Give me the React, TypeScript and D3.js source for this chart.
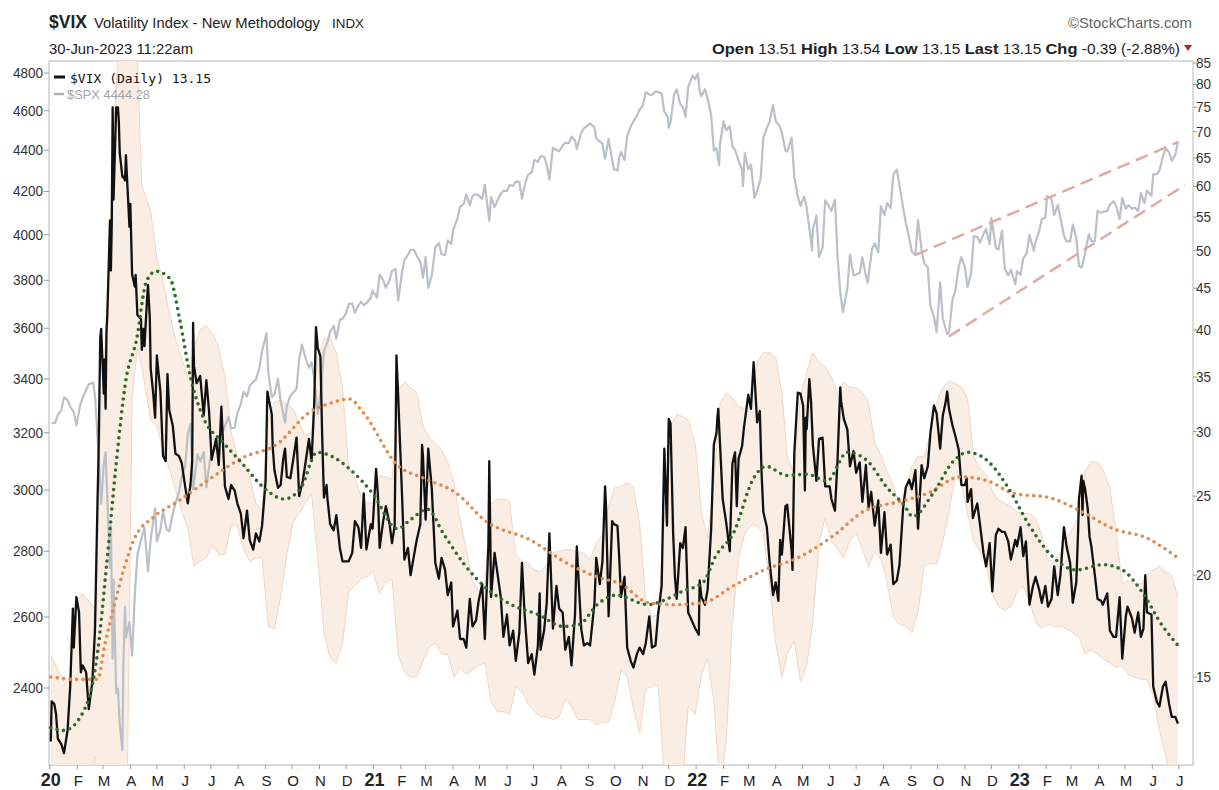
import React from 'react';
import * as d3 from 'd3';

// $VIX closes (right log axis) - weekly closes and spikes
const vixWeekly: [string, number][] = [
  ['2020-01-02', 12.5], ['2020-01-03', 14.0], ['2020-01-08', 13.5], ['2020-01-10', 12.6], ['2020-01-17', 12.1],
  ['2020-01-24', 14.6], ['2020-01-27', 18.2], ['2020-01-31', 18.8], ['2020-02-05', 15.2], ['2020-02-07', 15.5],
  ['2020-02-14', 13.7], ['2020-02-21', 17.1], ['2020-02-24', 25.0], ['2020-02-27', 39.2], ['2020-02-28', 40.1],
  ['2020-03-04', 32.0], ['2020-03-06', 41.9], ['2020-03-09', 54.5], ['2020-03-11', 53.9], ['2020-03-12', 75.0],
  ['2020-03-13', 57.8], ['2020-03-16', 75.0], ['2020-03-18', 75.0], ['2020-03-20', 66.0], ['2020-03-23', 61.6],
  ['2020-03-26', 61.0], ['2020-03-27', 65.5], ['2020-03-31', 53.5], ['2020-04-03', 46.8], ['2020-04-07', 46.7],
  ['2020-04-09', 41.7], ['2020-04-14', 37.8], ['2020-04-17', 38.2], ['2020-04-21', 45.4], ['2020-04-24', 35.9],
  ['2020-04-29', 31.2], ['2020-05-01', 37.2], ['2020-05-08', 28.0], ['2020-05-13', 35.3], ['2020-05-15', 31.9],
  ['2020-05-22', 28.2], ['2020-05-29', 27.5], ['2020-06-05', 24.5], ['2020-06-08', 25.8], ['2020-06-11', 40.8],
  ['2020-06-12', 36.1], ['2020-06-19', 35.1], ['2020-06-26', 34.7], ['2020-07-02', 27.7], ['2020-07-10', 27.3],
  ['2020-07-17', 25.7], ['2020-07-24', 25.8], ['2020-07-31', 24.5], ['2020-08-07', 22.2], ['2020-08-14', 22.1],
  ['2020-08-21', 22.5], ['2020-08-28', 23.0], ['2020-09-03', 33.6], ['2020-09-08', 31.5], ['2020-09-11', 26.9],
  ['2020-09-18', 25.8], ['2020-09-23', 28.6], ['2020-09-25', 26.4], ['2020-10-02', 27.6], ['2020-10-09', 25.0],
  ['2020-10-16', 27.4], ['2020-10-23', 27.6], ['2020-10-28', 40.3], ['2020-10-30', 38.0], ['2020-11-06', 24.9],
  ['2020-11-09', 25.8], ['2020-11-13', 23.1], ['2020-11-20', 23.7], ['2020-11-27', 20.8], ['2020-12-04', 20.8],
  ['2020-12-11', 23.3], ['2020-12-18', 21.6], ['2020-12-24', 21.5], ['2020-12-31', 22.8],
  ['2021-01-04', 27.0], ['2021-01-08', 21.6], ['2021-01-15', 24.3], ['2021-01-22', 21.9], ['2021-01-27', 37.2],
  ['2021-01-29', 33.1], ['2021-02-05', 20.9], ['2021-02-12', 20.0], ['2021-02-19', 22.1], ['2021-02-25', 28.9],
  ['2021-02-26', 28.0], ['2021-03-04', 28.6], ['2021-03-12', 20.7], ['2021-03-19', 21.0], ['2021-03-26', 18.9],
  ['2021-04-01', 17.3], ['2021-04-09', 16.7], ['2021-04-16', 16.3], ['2021-04-23', 17.3], ['2021-04-30', 18.6],
  ['2021-05-07', 16.7], ['2021-05-12', 27.6], ['2021-05-14', 18.8], ['2021-05-21', 20.2], ['2021-05-28', 16.8],
  ['2021-06-04', 16.4], ['2021-06-11', 15.7], ['2021-06-18', 20.7], ['2021-06-25', 15.6], ['2021-07-02', 15.1],
  ['2021-07-09', 16.2], ['2021-07-16', 18.5], ['2021-07-19', 22.5], ['2021-07-23', 17.2], ['2021-07-30', 18.2],
  ['2021-08-06', 16.2], ['2021-08-13', 15.5], ['2021-08-19', 21.7], ['2021-08-27', 16.4], ['2021-09-03', 16.4],
  ['2021-09-10', 21.0], ['2021-09-17', 20.8], ['2021-09-20', 25.7], ['2021-09-24', 17.8], ['2021-09-30', 23.1],
  ['2021-10-04', 23.0], ['2021-10-08', 18.8], ['2021-10-15', 16.3], ['2021-10-22', 15.4], ['2021-10-29', 16.3],
  ['2021-11-05', 16.5], ['2021-11-12', 16.3], ['2021-11-19', 17.9], ['2021-11-26', 28.6], ['2021-12-01', 31.1],
  ['2021-12-03', 30.7], ['2021-12-10', 18.7], ['2021-12-17', 21.6], ['2021-12-20', 22.9], ['2021-12-23', 18.0],
  ['2021-12-31', 17.2],
  ['2022-01-07', 18.8], ['2022-01-14', 19.2], ['2022-01-21', 28.9], ['2022-01-24', 29.9], ['2022-01-27', 30.5],
  ['2022-02-04', 23.2], ['2022-02-11', 27.4], ['2022-02-18', 27.8], ['2022-02-24', 30.3], ['2022-03-04', 32.0],
  ['2022-03-07', 36.5], ['2022-03-11', 30.8], ['2022-03-18', 23.9], ['2022-03-25', 20.8], ['2022-04-01', 19.6],
  ['2022-04-04', 18.6], ['2022-04-08', 21.2], ['2022-04-14', 24.4], ['2022-04-22', 28.2], ['2022-04-26', 33.5],
  ['2022-04-29', 33.4], ['2022-05-06', 30.2], ['2022-05-09', 34.8], ['2022-05-13', 28.9], ['2022-05-20', 29.4],
  ['2022-05-27', 25.7], ['2022-06-03', 24.8], ['2022-06-10', 27.8], ['2022-06-13', 34.0], ['2022-06-17', 31.1],
  ['2022-06-24', 27.2], ['2022-07-01', 26.7], ['2022-07-08', 24.6], ['2022-07-15', 24.2], ['2022-07-22', 23.0],
  ['2022-07-29', 21.3], ['2022-08-05', 21.2], ['2022-08-12', 19.5], ['2022-08-19', 20.6], ['2022-08-26', 25.6],
  ['2022-09-02', 25.5], ['2022-09-09', 22.8], ['2022-09-16', 26.3], ['2022-09-23', 29.9], ['2022-09-30', 31.6],
  ['2022-10-07', 31.4], ['2022-10-12', 33.6], ['2022-10-14', 32.0], ['2022-10-21', 29.7], ['2022-10-28', 25.8],
  ['2022-11-04', 24.6], ['2022-11-10', 23.5], ['2022-11-18', 23.1], ['2022-11-25', 20.5], ['2022-12-02', 19.1],
  ['2022-12-09', 22.8], ['2022-12-16', 22.6], ['2022-12-23', 20.9], ['2022-12-30', 21.7],
  ['2023-01-06', 21.1], ['2023-01-13', 18.4], ['2023-01-20', 19.9], ['2023-01-27', 18.5], ['2023-02-03', 18.3],
  ['2023-02-10', 20.5], ['2023-02-17', 20.0], ['2023-02-24', 21.7], ['2023-03-03', 18.5], ['2023-03-10', 24.8],
  ['2023-03-13', 26.5], ['2023-03-17', 25.5], ['2023-03-24', 21.7], ['2023-03-31', 18.7], ['2023-04-06', 18.4],
  ['2023-04-14', 17.1], ['2023-04-21', 16.8], ['2023-04-28', 15.8], ['2023-05-04', 18.3], ['2023-05-12', 17.0],
  ['2023-05-19', 16.8], ['2023-05-24', 20.0], ['2023-05-31', 17.9], ['2023-06-02', 14.6], ['2023-06-09', 13.8],
  ['2023-06-16', 14.8], ['2023-06-23', 13.4], ['2023-06-30', 13.15],
];

// $VIX mid-week closes
const vixMidweek: [string, number][] = [
  ['2020-01-06', 13.9], ['2020-01-14', 12.4], ['2020-01-21', 12.9], ['2020-01-28', 16.3], ['2020-02-03', 18.0],
  ['2020-02-11', 15.2], ['2020-02-18', 14.8], ['2020-02-25', 27.9], ['2020-03-02', 33.4], ['2020-03-03', 36.8],
  ['2020-03-05', 39.6], ['2020-03-10', 47.3], ['2020-03-19', 72.0], ['2020-03-24', 61.7], ['2020-04-01', 57.1],
  ['2020-04-06', 45.2], ['2020-04-13', 41.2], ['2020-04-16', 40.1], ['2020-04-20', 43.8], ['2020-04-23', 41.4],
  ['2020-04-27', 33.3], ['2020-05-05', 33.6], ['2020-05-11', 27.6], ['2020-05-19', 30.5], ['2020-05-26', 28.0],
  ['2020-06-02', 25.7], ['2020-06-10', 27.6], ['2020-06-15', 34.4], ['2020-06-23', 31.4], ['2020-06-29', 31.8],
  ['2020-07-07', 29.4], ['2020-07-13', 32.2], ['2020-07-21', 24.8], ['2020-07-28', 25.4], ['2020-08-04', 23.8],
  ['2020-08-11', 24.0], ['2020-08-18', 21.5], ['2020-08-25', 22.0], ['2020-09-01', 26.1], ['2020-09-09', 28.8],
  ['2020-09-15', 25.6], ['2020-09-21', 27.8], ['2020-09-29', 26.3], ['2020-10-06', 29.5], ['2020-10-13', 26.1],
  ['2020-10-20', 29.4], ['2020-10-26', 32.5], ['2020-11-02', 37.1], ['2020-11-04', 29.6], ['2020-11-10', 24.8],
  ['2020-11-17', 22.7], ['2020-11-24', 21.6], ['2020-12-01', 20.8], ['2020-12-08', 21.3], ['2020-12-15', 22.9],
  ['2020-12-21', 25.2], ['2020-12-29', 23.1],
  ['2021-01-06', 25.1], ['2021-01-12', 23.3], ['2021-01-19', 23.2], ['2021-01-25', 23.0], ['2021-02-02', 25.6],
  ['2021-02-09', 21.6], ['2021-02-17', 21.5], ['2021-02-23', 23.1], ['2021-03-01', 23.4], ['2021-03-08', 25.5],
  ['2021-03-16', 19.8], ['2021-03-23', 20.3], ['2021-03-30', 19.6], ['2021-04-06', 18.1], ['2021-04-13', 16.7],
  ['2021-04-20', 18.7], ['2021-04-27', 17.6], ['2021-05-04', 19.5], ['2021-05-11', 21.8], ['2021-05-13', 23.1],
  ['2021-05-18', 21.3], ['2021-05-25', 18.8], ['2021-06-01', 17.9], ['2021-06-08', 17.1], ['2021-06-15', 17.0],
  ['2021-06-21', 17.9], ['2021-06-29', 16.0], ['2021-07-06', 16.4], ['2021-07-08', 19.0], ['2021-07-13', 17.1],
  ['2021-07-21', 19.7], ['2021-07-27', 19.4], ['2021-08-03', 18.0], ['2021-08-10', 16.8], ['2021-08-17', 17.9],
  ['2021-08-24', 17.2], ['2021-08-31', 16.5], ['2021-09-08', 18.5], ['2021-09-14', 19.5], ['2021-09-21', 24.4],
  ['2021-09-28', 23.3], ['2021-10-06', 21.0], ['2021-10-12', 19.9], ['2021-10-19', 15.7], ['2021-10-26', 16.0],
  ['2021-11-02', 16.0], ['2021-11-09', 17.8], ['2021-11-16', 16.4], ['2021-11-23', 19.4], ['2021-11-29', 23.0],
  ['2021-12-06', 22.5], ['2021-12-08', 19.9], ['2021-12-14', 21.9], ['2021-12-28', 17.5],
  ['2022-01-04', 16.9], ['2022-01-05', 19.7], ['2022-01-11', 18.4], ['2022-01-18', 22.8], ['2022-01-25', 31.2],
  ['2022-01-26', 32.0], ['2022-01-31', 24.8], ['2022-02-08', 21.4], ['2022-02-14', 28.3], ['2022-02-16', 24.3],
  ['2022-02-22', 28.8], ['2022-03-01', 33.3], ['2022-03-08', 35.1], ['2022-03-14', 31.8], ['2022-03-16', 26.7],
  ['2022-03-22', 22.9], ['2022-03-29', 18.9], ['2022-04-06', 22.1], ['2022-04-12', 24.3], ['2022-04-19', 21.4],
  ['2022-04-20', 20.3], ['2022-05-02', 32.3], ['2022-05-04', 25.4], ['2022-05-05', 31.2], ['2022-05-11', 32.6],
  ['2022-05-17', 26.1], ['2022-05-24', 29.5], ['2022-06-01', 25.7], ['2022-06-07', 24.0], ['2022-06-14', 32.7],
  ['2022-06-21', 30.2], ['2022-06-28', 28.4], ['2022-07-05', 27.5], ['2022-07-12', 27.3], ['2022-07-18', 25.3],
  ['2022-07-26', 24.7], ['2022-08-02', 23.9], ['2022-08-09', 21.8], ['2022-08-16', 19.7], ['2022-08-23', 24.1],
  ['2022-08-30', 26.2], ['2022-09-06', 26.9], ['2022-09-13', 27.3], ['2022-09-20', 27.2], ['2022-09-27', 32.3],
  ['2022-10-04', 28.6], ['2022-10-10', 32.5], ['2022-10-18', 30.5], ['2022-10-25', 28.5], ['2022-11-01', 25.8],
  ['2022-11-03', 26.3], ['2022-11-08', 25.5], ['2022-11-15', 24.5], ['2022-11-22', 21.3], ['2022-11-29', 21.9],
  ['2022-12-06', 22.4], ['2022-12-13', 22.6], ['2022-12-20', 22.0], ['2022-12-28', 22.1],
  ['2023-01-03', 22.9], ['2023-01-09', 22.0], ['2023-01-17', 19.4], ['2023-01-24', 19.2], ['2023-01-31', 19.4],
  ['2023-02-07', 18.7], ['2023-02-14', 18.9], ['2023-02-21', 22.9], ['2023-02-28', 20.7], ['2023-03-07', 19.6],
  ['2023-03-09', 22.6], ['2023-03-14', 23.7], ['2023-03-15', 26.1], ['2023-03-20', 24.1], ['2023-03-22', 22.3],
  ['2023-03-28', 20.0], ['2023-04-04', 18.6], ['2023-04-11', 19.0], ['2023-04-18', 16.8], ['2023-04-25', 18.8],
  ['2023-05-02', 17.8], ['2023-05-09', 17.7], ['2023-05-16', 18.0], ['2023-05-22', 17.2], ['2023-05-26', 18.0],
  ['2023-06-06', 14.0], ['2023-06-13', 14.6], ['2023-06-20', 13.9], ['2023-06-27', 13.4],
];

// $SPX closes (left log axis)
const spxWeekly: [string, number][] = [
  ['2020-01-03', 3235], ['2020-01-10', 3265], ['2020-01-17', 3330], ['2020-01-24', 3295], ['2020-01-31', 3226],
  ['2020-02-07', 3328], ['2020-02-14', 3380], ['2020-02-19', 3386], ['2020-02-21', 3338], ['2020-02-28', 2954],
  ['2020-03-06', 2972], ['2020-03-09', 2747], ['2020-03-12', 2481], ['2020-03-13', 2711], ['2020-03-16', 2386],
  ['2020-03-20', 2305], ['2020-03-23', 2237], ['2020-03-27', 2541], ['2020-04-03', 2489], ['2020-04-09', 2790],
  ['2020-04-17', 2875], ['2020-04-24', 2837], ['2020-04-29', 2939], ['2020-05-01', 2831], ['2020-05-08', 2930],
  ['2020-05-15', 2864], ['2020-05-22', 2955], ['2020-05-29', 3044], ['2020-06-05', 3194], ['2020-06-08', 3232],
  ['2020-06-11', 3002], ['2020-06-19', 3098], ['2020-06-26', 3009], ['2020-07-02', 3130], ['2020-07-10', 3185],
  ['2020-07-17', 3225], ['2020-07-24', 3216], ['2020-07-31', 3271], ['2020-08-07', 3351], ['2020-08-14', 3373],
  ['2020-08-21', 3397], ['2020-08-28', 3508], ['2020-09-02', 3580], ['2020-09-08', 3332], ['2020-09-11', 3341],
  ['2020-09-18', 3319], ['2020-09-23', 3237], ['2020-09-25', 3298], ['2020-10-02', 3348], ['2020-10-09', 3477],
  ['2020-10-12', 3534], ['2020-10-16', 3483], ['2020-10-23', 3465], ['2020-10-30', 3270], ['2020-11-06', 3509],
  ['2020-11-13', 3585], ['2020-11-20', 3558], ['2020-11-27', 3638], ['2020-12-04', 3699], ['2020-12-11', 3663],
  ['2020-12-18', 3709], ['2020-12-24', 3703], ['2020-12-31', 3756],
  ['2021-01-08', 3824], ['2021-01-15', 3768], ['2021-01-22', 3841], ['2021-01-29', 3714], ['2021-02-05', 3887],
  ['2021-02-12', 3934], ['2021-02-19', 3906], ['2021-02-26', 3811], ['2021-03-04', 3768], ['2021-03-12', 3943],
  ['2021-03-19', 3913], ['2021-03-26', 3975], ['2021-04-01', 4020], ['2021-04-09', 4129], ['2021-04-16', 4185],
  ['2021-04-23', 4180], ['2021-04-30', 4181], ['2021-05-07', 4232], ['2021-05-12', 4063], ['2021-05-14', 4174],
  ['2021-05-21', 4156], ['2021-05-28', 4204], ['2021-06-04', 4230], ['2021-06-11', 4247], ['2021-06-18', 4166],
  ['2021-06-25', 4281], ['2021-07-02', 4352], ['2021-07-09', 4370], ['2021-07-16', 4327], ['2021-07-19', 4258],
  ['2021-07-23', 4412], ['2021-07-30', 4395], ['2021-08-06', 4437], ['2021-08-13', 4468], ['2021-08-19', 4406],
  ['2021-08-27', 4509], ['2021-09-03', 4535], ['2021-09-10', 4459], ['2021-09-17', 4433], ['2021-09-20', 4358],
  ['2021-09-24', 4455], ['2021-09-30', 4308], ['2021-10-04', 4300], ['2021-10-08', 4391], ['2021-10-15', 4471],
  ['2021-10-22', 4545], ['2021-10-29', 4605], ['2021-11-05', 4698], ['2021-11-12', 4683], ['2021-11-19', 4698],
  ['2021-11-26', 4595], ['2021-12-01', 4513], ['2021-12-03', 4538], ['2021-12-10', 4712], ['2021-12-17', 4620],
  ['2021-12-20', 4568], ['2021-12-23', 4725], ['2021-12-31', 4766],
  ['2022-01-03', 4796], ['2022-01-07', 4677], ['2022-01-14', 4662], ['2022-01-21', 4398], ['2022-01-27', 4326],
  ['2022-01-28', 4432], ['2022-02-04', 4500], ['2022-02-11', 4419], ['2022-02-18', 4349], ['2022-02-23', 4225],
  ['2022-02-25', 4385], ['2022-03-04', 4329], ['2022-03-08', 4170], ['2022-03-11', 4204], ['2022-03-18', 4463],
  ['2022-03-25', 4543], ['2022-03-29', 4631], ['2022-04-01', 4546], ['2022-04-08', 4488], ['2022-04-14', 4393],
  ['2022-04-22', 4272], ['2022-04-29', 4132], ['2022-05-06', 4123], ['2022-05-12', 3930], ['2022-05-13', 4024],
  ['2022-05-20', 3901], ['2022-05-27', 4158], ['2022-06-03', 4109], ['2022-06-10', 3901], ['2022-06-16', 3666],
  ['2022-06-24', 3912], ['2022-07-01', 3825], ['2022-07-08', 3899], ['2022-07-14', 3790], ['2022-07-22', 3962],
  ['2022-07-29', 4130], ['2022-08-05', 4145], ['2022-08-12', 4280], ['2022-08-16', 4305], ['2022-08-19', 4228],
  ['2022-08-26', 4058], ['2022-09-02', 3924], ['2022-09-09', 4067], ['2022-09-16', 3873], ['2022-09-23', 3693],
  ['2022-09-30', 3585], ['2022-10-07', 3640], ['2022-10-12', 3577], ['2022-10-14', 3583], ['2022-10-21', 3752],
  ['2022-10-28', 3901], ['2022-11-04', 3771], ['2022-11-11', 3993], ['2022-11-18', 3965], ['2022-11-25', 4026],
  ['2022-12-01', 4077], ['2022-12-09', 3934], ['2022-12-13', 4019], ['2022-12-16', 3852], ['2022-12-23', 3845],
  ['2022-12-28', 3783], ['2022-12-30', 3840],
  ['2023-01-06', 3895], ['2023-01-13', 3999], ['2023-01-20', 3973], ['2023-01-27', 4070], ['2023-02-02', 4179],
  ['2023-02-10', 4090], ['2023-02-17', 4079], ['2023-02-24', 3970], ['2023-03-03', 4046], ['2023-03-10', 3862],
  ['2023-03-17', 3917], ['2023-03-24', 3971], ['2023-03-31', 4109], ['2023-04-06', 4105], ['2023-04-14', 4138],
  ['2023-04-21', 4133], ['2023-04-28', 4169], ['2023-05-05', 4136], ['2023-05-12', 4124], ['2023-05-19', 4192],
  ['2023-05-26', 4205], ['2023-06-02', 4282], ['2023-06-09', 4299], ['2023-06-16', 4410], ['2023-06-23', 4348],
  ['2023-06-30', 4444],
];

// $SPX mid-week closes
const spxMidweek: [string, number][] = [
  ['2020-01-07', 3237], ['2020-01-14', 3283], ['2020-01-21', 3321], ['2020-01-28', 3276], ['2020-02-04', 3298],
  ['2020-02-11', 3358], ['2020-02-25', 3128], ['2020-03-02', 3090], ['2020-03-04', 3130], ['2020-03-10', 2882],
  ['2020-03-18', 2398], ['2020-03-24', 2447], ['2020-03-26', 2630], ['2020-03-31', 2585], ['2020-04-06', 2664],
  ['2020-04-14', 2846], ['2020-04-21', 2737], ['2020-05-05', 2868], ['2020-05-12', 2870], ['2020-05-19', 2922],
  ['2020-05-26', 2992], ['2020-06-02', 3080], ['2020-06-16', 3124], ['2020-06-23', 3131], ['2020-06-30', 3100],
  ['2020-07-07', 3145], ['2020-07-14', 3197], ['2020-07-21', 3257], ['2020-07-28', 3218], ['2020-08-04', 3306],
  ['2020-08-11', 3333], ['2020-08-18', 3390], ['2020-08-25', 3443], ['2020-09-04', 3427], ['2020-09-15', 3401],
  ['2020-09-29', 3335], ['2020-10-06', 3361], ['2020-10-20', 3443], ['2020-10-26', 3401], ['2020-11-03', 3369],
  ['2020-11-10', 3545], ['2020-11-17', 3610], ['2020-11-24', 3635], ['2020-12-01', 3662], ['2020-12-08', 3702],
  ['2020-12-15', 3694], ['2020-12-21', 3694], ['2020-12-29', 3727],
  ['2021-01-05', 3726], ['2021-01-12', 3801], ['2021-01-19', 3799], ['2021-01-26', 3849], ['2021-02-02', 3826],
  ['2021-02-09', 3911], ['2021-02-16', 3932], ['2021-02-23', 3881], ['2021-03-01', 3901], ['2021-03-08', 3821],
  ['2021-03-16', 3963], ['2021-03-23', 3910], ['2021-03-30', 3959], ['2021-04-06', 4074], ['2021-04-13', 4141],
  ['2021-04-20', 4135], ['2021-04-27', 4187], ['2021-05-04', 4165], ['2021-05-18', 4127], ['2021-05-25', 4188],
  ['2021-06-01', 4202], ['2021-06-08', 4227], ['2021-06-15', 4246], ['2021-06-22', 4246], ['2021-06-29', 4291],
  ['2021-07-06', 4343], ['2021-07-13', 4369], ['2021-07-27', 4401], ['2021-08-03', 4423], ['2021-08-10', 4436],
  ['2021-08-17', 4448], ['2021-08-24', 4486], ['2021-08-31', 4523], ['2021-09-08', 4514], ['2021-09-14', 4443],
  ['2021-09-28', 4352], ['2021-10-06', 4363], ['2021-10-12', 4351], ['2021-10-19', 4519], ['2021-10-26', 4575],
  ['2021-11-02', 4631], ['2021-11-09', 4685], ['2021-11-16', 4701], ['2021-11-23', 4690], ['2021-11-30', 4567],
  ['2021-12-07', 4686], ['2021-12-14', 4635], ['2021-12-28', 4786],
  ['2022-01-05', 4700], ['2022-01-11', 4713], ['2022-01-18', 4577], ['2022-01-24', 4410], ['2022-02-01', 4546],
  ['2022-02-08', 4521], ['2022-02-14', 4401], ['2022-02-22', 4304], ['2022-03-01', 4306], ['2022-03-15', 4262],
  ['2022-03-22', 4512], ['2022-04-05', 4525], ['2022-04-12', 4397], ['2022-04-19', 4462], ['2022-04-26', 4175],
  ['2022-05-03', 4175], ['2022-05-05', 4147], ['2022-05-10', 4001], ['2022-05-17', 4088], ['2022-05-24', 3941],
  ['2022-05-31', 4132], ['2022-06-07', 4161], ['2022-06-13', 3750], ['2022-06-21', 3765], ['2022-06-28', 3821],
  ['2022-07-05', 3831], ['2022-07-12', 3819], ['2022-07-19', 3937], ['2022-07-26', 3921], ['2022-08-02', 4091],
  ['2022-08-09', 4122], ['2022-08-23', 4128], ['2022-08-30', 3986], ['2022-09-06', 3909], ['2022-09-13', 3933],
  ['2022-09-20', 3856], ['2022-09-27', 3647], ['2022-10-04', 3791], ['2022-10-11', 3588], ['2022-10-18', 3720],
  ['2022-10-25', 3859], ['2022-11-01', 3856], ['2022-11-08', 3828], ['2022-11-15', 3991], ['2022-11-22', 4003],
  ['2022-11-29', 3958], ['2022-12-06', 3941], ['2022-12-20', 3821],
  ['2023-01-03', 3824], ['2023-01-10', 3919], ['2023-01-18', 3928], ['2023-01-24', 4017], ['2023-01-31', 4077],
  ['2023-02-07', 4164], ['2023-02-14', 4136], ['2023-02-21', 3997], ['2023-02-28', 3970], ['2023-03-07', 3986],
  ['2023-03-13', 3855], ['2023-03-21', 4002], ['2023-03-28', 3971], ['2023-04-04', 4100], ['2023-04-11', 4109],
  ['2023-04-18', 4154], ['2023-04-25', 4071], ['2023-05-02', 4119], ['2023-05-09', 4119], ['2023-05-16', 4109],
  ['2023-05-23', 4145], ['2023-05-31', 4180], ['2023-06-06', 4283], ['2023-06-13', 4369], ['2023-06-20', 4389],
  ['2023-06-27', 4378],
];

// green dotted: 50-day moving average of $VIX
const vixMa50: [string, number][] = [
  ['2020-01-02', 13.0], ['2020-01-17', 12.9], ['2020-02-12', 13.9], ['2020-02-24', 16.1], ['2020-03-05', 20.5],
  ['2020-03-16', 27.4], ['2020-03-27', 34.7], ['2020-04-08', 38.9], ['2020-04-19', 45.8], ['2020-04-30', 47.2],
  ['2020-05-16', 46.2], ['2020-05-27', 41.1], ['2020-06-08', 35.0], ['2020-06-22', 31.3], ['2020-07-15', 29.1],
  ['2020-08-07', 27.3], ['2020-08-30', 25.6], ['2020-09-22', 24.8], ['2020-10-11', 25.6], ['2020-10-29', 28.3],
  ['2020-11-14', 28.0], ['2020-12-05', 27.0], ['2020-12-31', 25.2], ['2021-01-28', 22.8], ['2021-02-12', 23.4],
  ['2021-03-03', 24.1], ['2021-03-21', 22.5], ['2021-04-14', 20.6], ['2021-05-06', 19.4], ['2021-06-06', 18.4],
  ['2021-07-06', 17.9], ['2021-08-04', 17.3], ['2021-08-22', 17.4], ['2021-09-11', 18.4], ['2021-10-02', 18.9],
  ['2021-11-08', 18.4], ['2021-11-24', 18.6], ['2021-12-16', 19.1], ['2022-01-09', 19.6], ['2022-01-23', 21.1],
  ['2022-02-12', 22.5], ['2022-03-07', 26.3], ['2022-03-21', 27.2], ['2022-04-14', 26.5], ['2022-05-06', 26.6],
  ['2022-05-29', 26.1], ['2022-06-21', 28.3], ['2022-07-14', 27.6], ['2022-08-05', 25.6], ['2022-08-24', 24.4],
  ['2022-09-03', 23.6], ['2022-09-26', 25.2], ['2022-10-19', 27.6], ['2022-11-04', 28.3], ['2022-11-27', 27.6],
  ['2022-12-20', 25.6], ['2023-01-12', 23.1], ['2023-02-04', 21.3], ['2023-03-07', 20.3], ['2023-04-06', 20.6],
  ['2023-04-28', 20.3], ['2023-05-20', 19.1], ['2023-06-13', 17.3], ['2023-06-30', 16.4],
];

// orange dotted: 200-day moving average of $VIX
const vixMa200: [string, number][] = [
  ['2020-01-02', 15.0], ['2020-02-01', 14.9], ['2020-02-24', 14.9], ['2020-03-03', 16.4], ['2020-03-14', 18.4],
  ['2020-03-25', 20.4], ['2020-04-05', 22.1], ['2020-04-28', 23.6], ['2020-05-24', 24.6], ['2020-07-01', 26.3],
  ['2020-08-07', 27.9], ['2020-09-13', 28.9], ['2020-10-21', 31.7], ['2020-11-13', 32.5], ['2020-12-05', 32.9],
  ['2020-12-20', 31.7], ['2021-01-28', 27.3], ['2021-02-27', 26.3], ['2021-04-05', 25.2], ['2021-05-08', 23.3],
  ['2021-06-27', 22.1], ['2021-08-11', 20.6], ['2021-09-11', 19.9], ['2021-10-08', 19.5], ['2021-11-08', 18.5],
  ['2021-12-08', 18.4], ['2022-01-09', 18.5], ['2022-02-12', 19.4], ['2022-03-19', 20.3], ['2022-04-26', 21.0],
  ['2022-06-04', 22.3], ['2022-07-11', 24.0], ['2022-08-18', 24.6], ['2022-09-20', 25.2], ['2022-10-27', 26.4],
  ['2022-11-27', 26.1], ['2022-12-26', 25.2], ['2023-02-04', 24.9], ['2023-03-11', 24.0], ['2023-04-18', 22.8],
  ['2023-05-26', 22.2], ['2023-06-30', 21.0],
];

// Bollinger band envelope around $VIX (weekly readings)
const bandDates: string[] = [
  '2020-01-02', '2020-01-10', '2020-01-17', '2020-01-24', '2020-01-31', '2020-02-07', '2020-02-14', '2020-02-21',
  '2020-02-28', '2020-03-06', '2020-03-13', '2020-03-20', '2020-03-27', '2020-04-03', '2020-04-09', '2020-04-14',
  '2020-04-24', '2020-05-01', '2020-05-08', '2020-05-15', '2020-05-22', '2020-05-29', '2020-06-05', '2020-06-12',
  '2020-06-19', '2020-06-26', '2020-07-03', '2020-07-10', '2020-07-17', '2020-07-24', '2020-07-31', '2020-08-07',
  '2020-08-14', '2020-08-21', '2020-08-28', '2020-09-04', '2020-09-11', '2020-09-18', '2020-09-25', '2020-10-02',
  '2020-10-09', '2020-10-16', '2020-10-23', '2020-10-30', '2020-11-06', '2020-11-13', '2020-11-20', '2020-11-27',
  '2020-12-04', '2020-12-11', '2020-12-18', '2020-12-24', '2020-12-31',
  '2021-01-08', '2021-01-15', '2021-01-22', '2021-01-29', '2021-02-05', '2021-02-12', '2021-02-19', '2021-02-26',
  '2021-03-05', '2021-03-12', '2021-03-19', '2021-03-26', '2021-04-02', '2021-04-09', '2021-04-16', '2021-04-23',
  '2021-04-30', '2021-05-07', '2021-05-14', '2021-05-21', '2021-05-28', '2021-06-04', '2021-06-11', '2021-06-18',
  '2021-06-25', '2021-07-02', '2021-07-09', '2021-07-16', '2021-07-23', '2021-07-30', '2021-08-06', '2021-08-13',
  '2021-08-20', '2021-08-27', '2021-09-03', '2021-09-10', '2021-09-17', '2021-09-24', '2021-10-01', '2021-10-08',
  '2021-10-15', '2021-10-22', '2021-10-29', '2021-11-05', '2021-11-12', '2021-11-19', '2021-11-26', '2021-12-03',
  '2021-12-10', '2021-12-17', '2021-12-23', '2021-12-31',
  '2022-01-07', '2022-01-14', '2022-01-21', '2022-01-28', '2022-02-04', '2022-02-11', '2022-02-18', '2022-02-25',
  '2022-03-04', '2022-03-11', '2022-03-18', '2022-03-25', '2022-04-01', '2022-04-08', '2022-04-14', '2022-04-22',
  '2022-04-29', '2022-05-06', '2022-05-13', '2022-05-20', '2022-05-27', '2022-06-03', '2022-06-10', '2022-06-17',
  '2022-06-24', '2022-07-01', '2022-07-08', '2022-07-15', '2022-07-22', '2022-07-29', '2022-08-05', '2022-08-12',
  '2022-08-19', '2022-08-26', '2022-09-02', '2022-09-09', '2022-09-16', '2022-09-23', '2022-09-30', '2022-10-07',
  '2022-10-14', '2022-10-21', '2022-10-28', '2022-11-04', '2022-11-11', '2022-11-18', '2022-11-25', '2022-12-02',
  '2022-12-09', '2022-12-16', '2022-12-23', '2022-12-30',
  '2023-01-06', '2023-01-13', '2023-01-20', '2023-01-27', '2023-02-03', '2023-02-10', '2023-02-17', '2023-02-24',
  '2023-03-03', '2023-03-10', '2023-03-17', '2023-03-24', '2023-03-31', '2023-04-06', '2023-04-14', '2023-04-21',
  '2023-04-28', '2023-05-05', '2023-05-12', '2023-05-19', '2023-05-26', '2023-06-02', '2023-06-09', '2023-06-16',
  '2023-06-23', '2023-06-30',
];
const bandUpper: number[] = [
  16.0, 15.3, 14.8, 15.0, 18.6, 19.0, 18.6, 18.2,
  32.0, 43.0, 70.0, 95.0, 95.0, 90.0, 85.0, 60.0,
  56.0, 49.0, 46.0, 42.0, 39.0, 37.0, 35.0, 38.0,
  40.0, 40.5, 39.5, 38.0, 35.0, 30.0, 28.0, 27.5,
  26.5, 24.5, 24.0, 31.0, 32.6, 32.8, 32.4, 32.0,
  30.8, 29.6, 30.0, 37.0, 39.0, 39.0, 37.5, 34.0,
  27.0, 26.3, 25.0, 24.6, 24.5,
  26.5, 26.4, 26.2, 33.8, 34.5, 34.0, 33.5, 30.5,
  29.5, 29.0, 28.5, 27.5, 26.0, 23.5, 21.5, 19.7,
  19.1, 19.6, 24.5, 24.8, 24.8, 24.6, 21.2, 20.8,
  20.7, 20.3, 20.2, 20.6, 21.3, 21.4, 21.5, 21.5,
  21.3, 21.3, 20.9, 21.9, 22.4, 24.3, 25.6, 25.7,
  26.0, 25.7, 23.2, 18.5, 17.8, 17.9, 23.3, 30.5,
  31.5, 31.3, 31.0, 29.0,
  23.9, 22.2, 26.0, 32.5, 33.5, 33.0, 32.2, 32.0,
  33.0, 36.5, 37.5, 37.5, 37.0, 33.5, 28.0, 26.6,
  33.2, 35.5, 37.5, 36.5, 36.0, 35.0, 33.5, 34.5,
  34.0, 34.0, 33.5, 32.6, 29.1, 28.1, 26.8, 25.8,
  24.2, 25.3, 27.2, 28.0, 27.9, 29.9, 32.6, 34.0,
  34.6, 34.4, 34.0, 33.0, 28.0, 27.0, 26.6, 25.4,
  24.7, 24.5, 24.3, 23.9,
  23.8, 23.8, 23.5, 22.4, 20.8, 20.9, 21.3, 22.2,
  22.8, 23.6, 26.9, 27.6, 27.5, 27.0, 25.6, 22.5,
  19.5, 19.7, 19.5, 19.5, 20.0, 20.3, 20.5, 20.2,
  20.0, 18.8,
];
const bandLower: number[] = [
  11.3, 11.3, 11.4, 11.2, 10.0, 10.5, 11.3, 12.0,
  5.0, 3.0, 2.0, 2.0, 8.0, 33.0, 38.0, 36.0,
  31.0, 30.5, 28.5, 27.0, 25.5, 24.0, 22.8, 20.5,
  20.8, 21.0, 21.8, 21.2, 21.2, 23.0, 23.0, 21.5,
  20.8, 21.0, 21.0, 17.3, 17.2, 18.8, 21.2, 23.2,
  23.8, 24.5, 25.2, 21.0, 17.0, 15.8, 15.6, 16.5,
  19.1, 19.4, 19.8, 19.9, 20.2,
  19.0, 19.6, 19.8, 16.0, 15.2, 15.0, 15.0, 15.7,
  16.3, 16.5, 16.0, 16.0, 15.0, 15.4, 15.1, 15.3,
  15.5, 15.6, 14.0, 13.6, 13.6, 13.5, 14.6, 14.4,
  13.9, 13.6, 13.4, 13.4, 13.3, 13.4, 14.1, 13.8,
  13.3, 13.3, 13.3, 13.1, 13.2, 13.2, 14.0, 15.3,
  15.0, 13.7, 12.8, 14.5, 14.6, 14.7, 11.3, 9.0,
  9.5, 11.3, 13.8, 13.5,
  15.1, 15.8, 14.0, 11.0, 12.5, 17.5, 21.0, 22.5,
  23.0, 23.0, 22.5, 19.5, 16.5, 15.0, 16.0, 16.6,
  14.8, 15.5, 17.5, 22.0, 23.5, 22.0, 21.5, 21.0,
  22.1, 22.5, 21.5, 20.5, 21.4, 20.9, 19.6, 17.8,
  17.4, 17.3, 17.0, 18.0, 20.5, 20.7, 20.6, 22.0,
  23.9, 26.5, 26.0, 23.8, 22.0, 21.4, 20.6, 19.0,
  18.3, 18.1, 18.3, 19.1,
  19.4, 18.6, 17.5, 17.2, 17.4, 17.3, 17.3, 17.2,
  17.0, 16.8, 16.0, 16.2, 16.0, 15.8, 15.6, 15.4,
  15.5, 15.1, 15.0, 14.9, 14.9, 14.2, 12.9, 12.0,
  11.2, 11.3,
];

// rising wedge drawn on $SPX
const trendUpper: [string, number][] = [['2022-09-06', 3910], ['2023-06-30', 4440]];
const trendLower: [string, number][] = [['2022-10-14', 3567], ['2023-07-08', 4231]];

const spxTicks = [2400, 2600, 2800, 3000, 3200, 3400, 3600, 3800, 4000, 4200, 4400, 4600, 4800];
const vixTicks = [15, 20, 25, 30, 35, 40, 45, 50, 55, 60, 65, 70, 75, 80, 85];
const monthLetters = ['J', 'F', 'M', 'A', 'M', 'J', 'J', 'A', 'S', 'O', 'N', 'D'];

const W = 1219;
const H = 790;
const plot = { left: 49, right: 1193, top: 61, bottom: 765 };
const FONT = '"Liberation Sans", Arial, sans-serif';

const parse = d3.utcParse('%Y-%m-%d');
const byDate = (a: [string, number], b: [string, number]) => d3.ascending(a[0], b[0]);
const vixDaily = [...vixWeekly, ...vixMidweek].sort(byDate);
const spxDaily = [...spxWeekly, ...spxMidweek].sort(byDate);

export default function App() {
  const x = d3.scaleUtc()
    .domain([parse('2019-12-31')!, parse('2023-07-17')!])
    .range([plot.left, plot.right]);
  const yVix = d3.scaleLog().domain([85, 15]).range([63, 677]);
  const ySpx = d3.scaleLog().domain([4800, 2400]).range([73, 688]);

  const lineVix = d3.line<[string, number]>()
    .x((d) => x(parse(d[0])!))
    .y((d) => yVix(d[1]));
  const smoothVix = d3.line<[string, number]>()
    .x((d) => x(parse(d[0])!))
    .y((d) => yVix(d[1]))
    .curve(d3.curveMonotoneX);
  const lineSpx = d3.line<[string, number]>()
    .x((d) => x(parse(d[0])!))
    .y((d) => ySpx(d[1]));

  const band = d3.area<string>()
    .x((d) => x(parse(d)!))
    .y0((d, i) => yVix(bandLower[i]))
    .y1((d, i) => yVix(bandUpper[i]));
  const bandEdgeU = d3.line<string>().x((d) => x(parse(d)!)).y((d, i) => yVix(bandUpper[i]));
  const bandEdgeL = d3.line<string>().x((d) => x(parse(d)!)).y((d, i) => yVix(bandLower[i]));

  const months = d3.utcMonth.range(parse('2020-01-01')!, parse('2023-07-02')!);

  return (
    <svg width={W} height={H} style={{ position: 'absolute', left: 0, top: 0, background: '#fff' }}>
      <defs>
        <clipPath id="plotClip">
          <rect x={plot.left} y={plot.top} width={plot.right - plot.left} height={plot.bottom - plot.top} />
        </clipPath>
      </defs>

      {/* header */}
      <g fontFamily={FONT} fill="#222">
        <text x={49} y={28} fontSize={18} fontWeight="bold" textLength={38} lengthAdjust="spacingAndGlyphs">$VIX</text>
        <text x={94} y={28} fontSize={14.5} textLength={226} lengthAdjust="spacingAndGlyphs">Volatility Index - New Methodology</text>
        <text x={332} y={28} fontSize={12} textLength={32} lengthAdjust="spacingAndGlyphs">INDX</text>
        <text x={49} y={54} fontSize={14} textLength={144} lengthAdjust="spacingAndGlyphs">30-Jun-2023 11:22am</text>
        <text x={1068} y={28} fontSize={15} fill="#666" textLength={124} lengthAdjust="spacingAndGlyphs">©StockCharts.com</text>
        <text x={712} y={54} fontSize={14} textLength={468} lengthAdjust="spacingAndGlyphs">
          <tspan fontWeight="bold" fontSize={15}>Open</tspan><tspan> 13.51 </tspan>
          <tspan fontWeight="bold" fontSize={15}> High</tspan><tspan> 13.54 </tspan>
          <tspan fontWeight="bold" fontSize={15}> Low</tspan><tspan> 13.15 </tspan>
          <tspan fontWeight="bold" fontSize={15}> Last</tspan><tspan> 13.15 </tspan>
          <tspan fontWeight="bold" fontSize={15}> Chg</tspan><tspan> -0.39 (-2.88%)</tspan>
        </text>
      </g>
      <path d="M1184,45 L1192,45 L1188,51 Z" fill="#b0262a" />

      {/* frame */}
      <rect x={plot.left} y={plot.top} width={plot.right - plot.left} height={plot.bottom - plot.top}
        fill="none" stroke="#c4c4c4" strokeWidth={1.2} />

      <g clipPath="url(#plotClip)">
        <path d={band(bandDates) ?? ''} fill="#f8eadf" fillOpacity={0.85} stroke="none" />
        <path d={bandEdgeU(bandDates) ?? ''} fill="none" stroke="#f0d8c6" strokeWidth={1} />
        <path d={bandEdgeL(bandDates) ?? ''} fill="none" stroke="#f0d8c6" strokeWidth={1} />

        <path d={lineSpx(spxDaily) ?? ''} fill="none" stroke="#b9c0c7" strokeWidth={2.2} strokeLinejoin="round" />

        <path d={lineSpx(trendUpper) ?? ''} fill="none" stroke="#e3a9a2" strokeWidth={2.5} strokeDasharray="13 7" />
        <path d={lineSpx(trendLower) ?? ''} fill="none" stroke="#e3a9a2" strokeWidth={2.5} strokeDasharray="13 7" />

        <path d={lineVix(vixDaily) ?? ''} fill="none" stroke="#111" strokeWidth={2.3} strokeLinejoin="round" />

        <path d={smoothVix(vixMa200) ?? ''} fill="none" stroke="#e08a4c" strokeWidth={3.6}
          strokeDasharray="0 6.5" strokeLinecap="round" />
        <path d={smoothVix(vixMa50) ?? ''} fill="none" stroke="#2f6b2c" strokeWidth={3.6}
          strokeDasharray="0 6.5" strokeLinecap="round" />
      </g>

      {/* legend */}
      <line x1={54} x2={65} y1={77} y2={77} stroke="#111" strokeWidth={3} />
      <text x={70} y={83} fontFamily='"DejaVu Sans Mono", monospace' fontSize={13} fill="#111"
        textLength={141} lengthAdjust="spacingAndGlyphs">$VIX (Daily) 13.15</text>
      <line x1={54} x2={64} y1={94} y2={94} stroke="#aab1b8" strokeWidth={2.5} />
      <text x={67} y={99} fontFamily={FONT} fontSize={13} fill="#9ea6ad"
        textLength={83} lengthAdjust="spacingAndGlyphs">$SPX 4444.28</text>

      {/* left axis ($SPX) */}
      {spxTicks.map((t) => (
        <g key={`l${t}`}>
          <line x1={44} x2={plot.left} y1={ySpx(t)} y2={ySpx(t)} stroke="#999" />
          <text x={43} y={ySpx(t) + 5} textAnchor="end" fontFamily={FONT} fontSize={14} fill="#333"
            textLength={30} lengthAdjust="spacingAndGlyphs">{t}</text>
        </g>
      ))}

      {/* right axis ($VIX) */}
      {vixTicks.map((t) => (
        <g key={`r${t}`}>
          <line x1={plot.right} x2={plot.right + 4} y1={yVix(t)} y2={yVix(t)} stroke="#999" />
          <text x={plot.right + 3} y={yVix(t) + 5} fontFamily={FONT} fontSize={14} fill="#333"
            textLength={15} lengthAdjust="spacingAndGlyphs">{t}</text>
        </g>
      ))}

      {/* bottom axis */}
      {months.map((m) => {
        const mi = m.getUTCMonth();
        const isYear = mi === 0;
        const label = isYear ? d3.utcFormat('%y')(m) : monthLetters[mi];
        return (
          <g key={m.toISOString()}>
            <line x1={x(m)} x2={x(m)} y1={plot.bottom} y2={plot.bottom + 4} stroke="#999" />
            <text x={x(m) + 1} y={786} textAnchor="middle" fontFamily={FONT}
              fontSize={isYear ? 18 : 15} fontWeight={isYear ? 'bold' : 'normal'} fill="#222">{label}</text>
          </g>
        );
      })}
    </svg>
  );
}
